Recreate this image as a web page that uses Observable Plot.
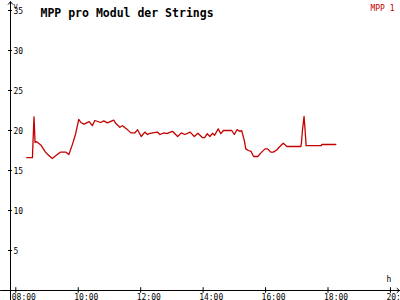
<!DOCTYPE html>
<html>
<head>
<meta charset="utf-8">
<script src="https://cdn.jsdelivr.net/npm/d3@7"></script>
<script src="https://cdn.jsdelivr.net/npm/@observablehq/plot@0.6"></script>
<style>
  html, body { margin: 0; padding: 0; background: #fff; }
  svg { display: block; }
</style>
</head>
<body>
<div id="chart"></div>
<script>
const title = "MPP pro Modul der Strings";
const seriesName = "MPP 1";
const yUnit = "V";
const xUnit = "h";

const times = ["08:21","08:32","08:33","08:35","08:37","08:40","08:48","08:57","09:03","09:10","09:16","09:26","09:36","09:42","09:49","09:55",
  "10:01","10:05","10:11","10:21","10:27","10:32","10:43","10:49","10:56","11:08","11:12","11:20","11:25","11:33","11:41","11:49","11:54",
  "12:01","12:08","12:13","12:16","12:23","12:32","12:37","12:45","12:50","13:01","13:11","13:18","13:25","13:35","13:43","13:50","13:59",
  "14:03","14:08","14:13","14:18","14:22","14:29","14:34","14:39","14:55","15:00","15:05","15:11","15:14","15:19","15:22","15:27","15:32",
  "15:37","15:45","15:51","15:59","16:04","16:10","16:15","16:22","16:26","16:34","16:41","17:08","17:09","17:11","17:13","17:14","17:16",
  "17:18","17:47","17:48","18:15"];
const values = [16.6,16.6,18.5,21.7,18.5,18.6,18.2,17.3,16.9,16.5,16.8,17.3,17.3,17.0,18.3,19.6,
  21.4,21.0,20.8,21.1,20.6,21.25,21.0,21.2,20.95,21.3,20.9,20.4,20.6,20.2,19.7,19.7,20.1,
  19.25,19.8,19.5,19.6,19.7,19.8,19.5,19.7,19.6,19.9,19.25,19.7,19.5,19.8,19.25,19.65,19.1,
  19.1,19.6,19.25,19.65,19.4,20.2,19.6,20.0,20.0,19.5,20.1,19.9,20.0,18.8,17.7,17.5,17.4,
  16.75,16.75,17.2,17.7,17.7,17.3,17.3,17.6,17.9,18.4,18.0,18.0,18.5,20.1,21.2,21.75,20.0,
  18.1,18.1,18.25,18.25];

const xTickHours = [8, 10, 12, 14, 16, 18, 20];
const yTickValues = [5, 10, 15, 20, 25, 30, 35];

const toHours = s => { const [h, m] = s.split(":").map(Number); return h + m / 60; };
const data = times.map((t, i) => ({hour: toHours(t), value: values[i]}));
const fmtHour = h => String(h).padStart(2, "0") + ":00";

const xMin = 7.83, xMax = 20.29, xLeftEdge = 7.51;
const yBottom = -1.25, yTop = 36.1;
const font = "'DejaVu Sans Mono', 'Liberation Mono', monospace";
const red = "#c40000";

const chart = Plot.plot({
  width: 400,
  height: 300,
  marginLeft: 10,
  marginRight: 1,
  marginTop: 10,
  marginBottom: 10,
  style: {background: "#fff", fontFamily: font},
  x: {type: "linear", domain: [xMin, xMax], axis: null},
  y: {type: "linear", domain: [0, 35], axis: null},
  marks: [
    // axes
    Plot.arrow([0], {x1: xLeftEdge, y1: 0, x2: xMax, y2: 0, stroke: "black", strokeWidth: 1, headLength: 5, headAngle: 80}),
    Plot.arrow([0], {x1: xMin, y1: yBottom, x2: xMin, y2: yTop, stroke: "black", strokeWidth: 1, headLength: 5, headAngle: 80}),
    Plot.ruleX(xTickHours, {x: d => d, y1: -0.35, y2: 0.35, stroke: "black"}),
    Plot.ruleY(yTickValues, {y: d => d, x1: xMin - 0.064, x2: xMin + 0.064, stroke: "black"}),
    Plot.text(xTickHours, {x: d => d, y: 0, text: fmtHour, textAnchor: "start", dx: -4, dy: 6.5, fontSize: 8, fill: "black"}),
    Plot.text(yTickValues, {x: xMin, y: d => d, text: d => String(d), textAnchor: "start", dx: 3, dy: 0.5, fontSize: 8, fill: "black"}),
    Plot.text([yUnit], {frameAnchor: "top-left", text: d => d, textAnchor: "start", dx: 3, dy: -6.5, fontSize: 7, fill: "black"}),
    Plot.text([xUnit], {frameAnchor: "bottom-right", text: d => d, textAnchor: "start", dx: -13, dy: -8.5, fontSize: 8, fill: "black"}),
    // data line
    Plot.line(data, {x: "hour", y: "value", stroke: red, strokeWidth: 1.3}),
    // title & legend
    Plot.text([title], {frameAnchor: "top-left", text: d => d, textAnchor: "start", dx: 30, dy: -1.5, fontSize: 11.5, fontWeight: "bold", fill: "black"}),
    Plot.text([seriesName], {frameAnchor: "top-right", text: d => d, textAnchor: "end", dx: -5, dy: -5.5, fontSize: 8, fill: red})
  ]
});
document.getElementById("chart").appendChild(chart);
</script>
</body>
</html>
